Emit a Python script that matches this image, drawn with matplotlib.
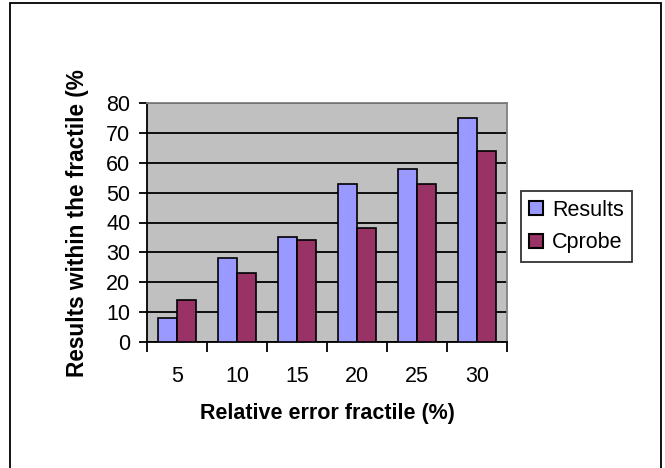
import numpy as np
import matplotlib.pyplot as plt
from matplotlib.patches import Rectangle

plt.rcParams['font.family'] = ['Liberation Sans', 'DejaVu Sans']

categories = ['5', '10', '15', '20', '25', '30']
results = [8, 28, 35, 53, 58, 75]
cprobe = [14, 23, 34, 38, 53, 64]

fig = plt.figure(figsize=(6.65, 4.68), dpi=100)
ax = fig.add_axes([147/665, 1 - 342/468, 360/665, 239/468])
ax.set_facecolor('#C0C0C0')

x = np.arange(len(categories))
w = 0.31
ax.bar(x - w/2, results, w, color='#9999FF', edgecolor='black', linewidth=1.2, label='Results', zorder=3)
ax.bar(x + w/2, cprobe, w, color='#993366', edgecolor='black', linewidth=1.2, label='Cprobe', zorder=3)

ax.set_xlim(-0.5, len(categories) - 0.5)
ax.set_ylim(0, 80)
ax.set_yticks(range(0, 81, 10))
ax.yaxis.grid(True, color='black', linewidth=1.3, zorder=1)
ax.set_axisbelow(True)

ax.set_xticks(x)
ax.set_xticklabels(categories)
ax.set_xticks(np.arange(-0.5, len(categories)), minor=True)
ax.tick_params(axis='x', which='major', length=0, pad=17, labelsize=15.5)
ax.tick_params(axis='x', which='minor', length=7, width=1.3, direction='out')
ax.tick_params(axis='y', length=6, width=1.3, pad=6, labelsize=15.5)

for s in ['left', 'bottom']:
    ax.spines[s].set_color('black')
    ax.spines[s].set_linewidth(1.3)
for s in ['top', 'right']:
    ax.spines[s].set_color('#808080')
    ax.spines[s].set_linewidth(1.3)

fig.text(327/665, 1 - 413/468, 'Relative error fractile (%)', ha='center', va='center',
         fontsize=15.5, fontweight='bold')
fig.text(78/665, 1 - 223/468, 'Results within the fractile (%', ha='center', va='center',
         rotation=90, fontsize=16.3, fontweight='bold')

leg = fig.legend(loc='center', bbox_to_anchor=(576.5/665, 1 - 226.5/468), fontsize=15.5,
                 frameon=True, fancybox=False, edgecolor='black', handlelength=0.65,
                 handleheight=0.65, handletextpad=0.4, borderpad=0.4, labelspacing=0.55,
                 borderaxespad=0)
leg.get_frame().set_linewidth(1.3)
for h in leg.legend_handles:
    h.set_linewidth(1.5)

fig.patches.append(Rectangle((10/665, -0.1), 651/665, 1.1 - 3/468, transform=fig.transFigure,
                             fill=False, edgecolor='black', linewidth=1.3))

fig.savefig('out.png', dpi=100)
